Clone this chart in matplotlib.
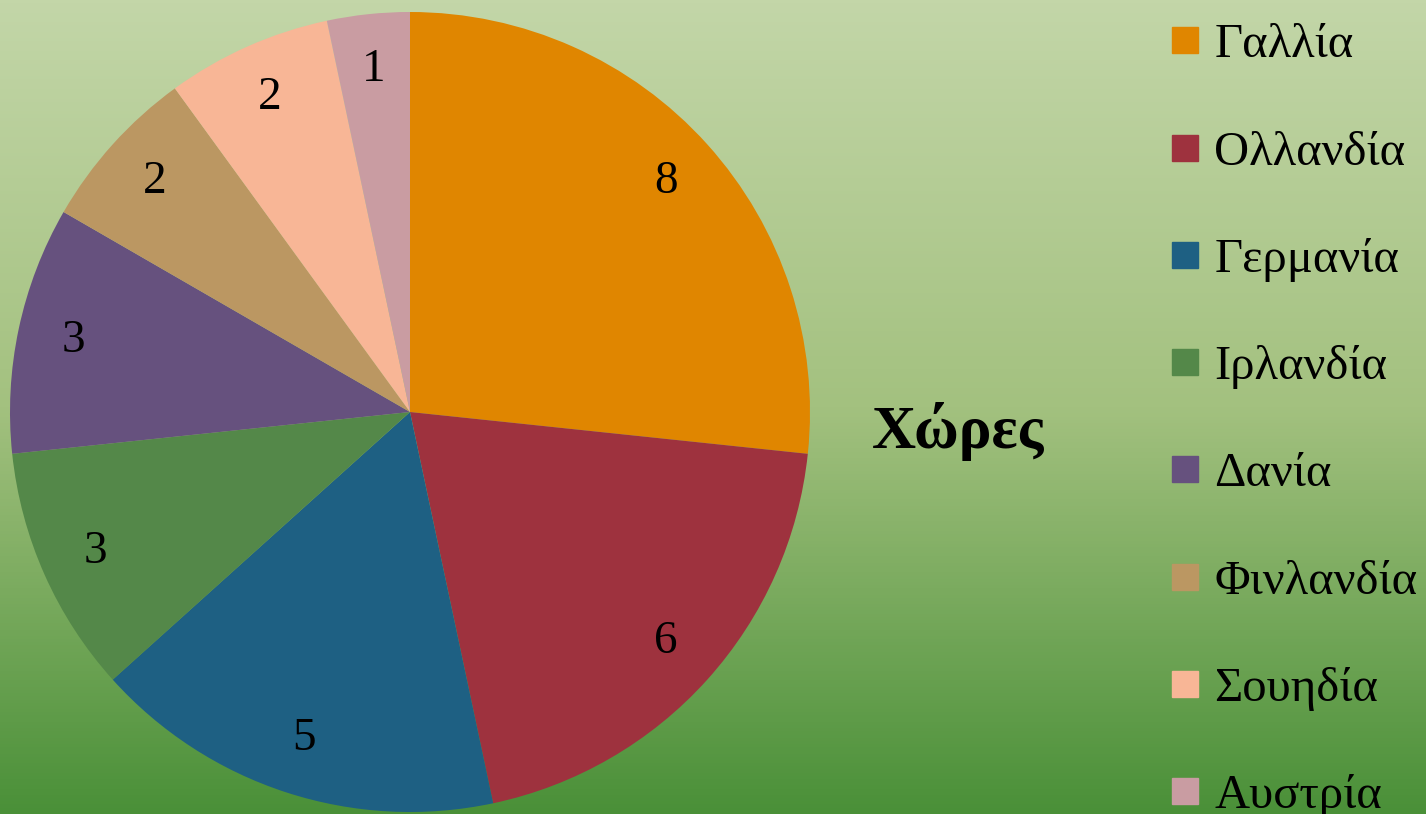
import matplotlib
matplotlib.use("Agg")
import matplotlib.pyplot as plt
import numpy as np
from matplotlib.colors import LinearSegmentedColormap
from matplotlib.lines import Line2D

countries = ['Γαλλία', 'Ολλανδία', 'Γερμανία', 'Ιρλανδία', 'Δανία', 'Φινλανδία', 'Σουηδία', 'Αυστρία']
values = [8, 6, 5, 3, 3, 2, 2, 1]
colors = ['#e08600', '#9e323e', '#1e6083', '#548849', '#66517e', '#bb9762', '#f8b696', '#c99ca2']
title = 'Χώρες'

plt.rcParams['font.family'] = ['Liberation Serif', 'DejaVu Serif']

W, H = 1426, 814
fig = plt.figure(figsize=(W / 100, H / 100), dpi=100)

# gradient background
bg = fig.add_axes([0, 0, 1, 1], zorder=-1)
cmap = LinearSegmentedColormap.from_list('bg', ['#c3d6a8', '#a3c17f', '#4a9038'])
grad = np.linspace(0, 1, 256).reshape(-1, 1)
bg.imshow(grad, aspect='auto', cmap=cmap, extent=[0, 1, 0, 1], origin='upper')
bg.axis('off')

# pie
cx, cy, r = 410, 412, 400
ax = fig.add_axes([(cx - r) / W, (H - cy - r) / H, 2 * r / W, 2 * r / H])
ax.set_facecolor('none')
wedges, texts, autotexts = ax.pie(values, colors=colors, startangle=90, counterclock=False,
                                  autopct=lambda p: f'{round(p * sum(values) / 100):d}',
                                  pctdistance=0.86, radius=1.0,
                                  textprops={'fontsize': 34, 'color': 'black'})
ax.set_xlim(-1, 1)
ax.set_ylim(-1, 1)
ax.set_aspect('equal')
ax.axis('off')

fig.text(958 / W, 1 - 432 / H, title, fontsize=44, fontweight='bold', ha='center', va='center')

handles = [Line2D([], [], marker='s', linestyle='none', markersize=19, markerfacecolor=c,
                  markeredgecolor=c) for c in colors]
fig.legend(handles, countries, loc='upper left', bbox_to_anchor=(1151 / W, 1 - 4 / H),
           frameon=False, fontsize=35, labelspacing=1.3, handlelength=0.6,
           handletextpad=0.3, borderaxespad=0.0)

fig.savefig('out.png', dpi=100)
